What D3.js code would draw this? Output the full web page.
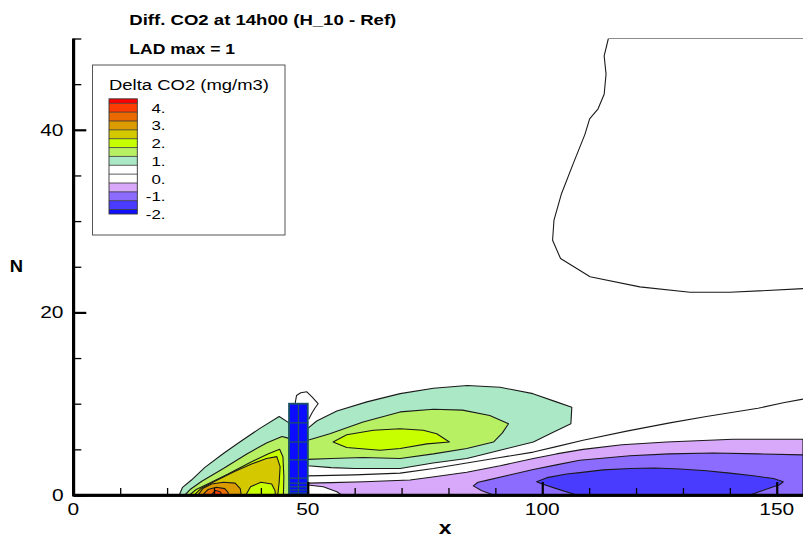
<!DOCTYPE html>
<html><head><meta charset="utf-8">
<script src="https://cdn.jsdelivr.net/npm/d3@7"></script>
<style>
body{margin:0;background:#fff}
svg{display:block}
text{font-family:"Liberation Sans",Arial,Helvetica,sans-serif;fill:#000}
</style>
</head><body>
<svg id="chart" width="803" height="538"></svg>
<script>
// ---------------- DATA ----------------
const titleText = "Diff. CO2 at 14h00 (H_10 - Ref)";
const subTitleText = "LAD max = 1";
const legendTitle = "Delta CO2 (mg/m3)";
const xLabel = "x", yLabel = "N";

const xMajorTicks = [0, 50, 100, 150];
const xMinorTicks = [10, 20, 30, 40, 60, 70, 80, 90, 110, 120, 130, 140];
const yMajorTicks = [0, 20, 40];
const yMinorTicks = [5, 10, 15, 25, 30, 35, 45, 50];

// legend: band edges (mg/m3) and colours
const legendBreaks = [4.5, 4.25, 3.75, 3.25, 2.75, 2.25, 1.75, 1.25, 0.75, 0.25, -0.25, -0.75, -1.25, -1.75, -2];
const legendColors = ["#ff0000", "#ff3c00", "#ea6a00", "#dc9c00", "#d4c800", "#c8ff00", "#b8f064", "#aae8c6",
                      "#ffffff", "#ffffff", "#d8a8fa", "#8c6cff", "#4a3cff", "#1010ff"];
const legendLabels = [4, 3, 2, 1, 0, -1, -2];

// contour regions, points in (x, N)
const leftMint = [[22.6,0],[23.3,0.84],[25.2,1.64],[28.0,3.0],[32.0,4.55],[35.5,5.8],[39.8,7.3],[43.9,8.6],[46,7.9],[46,0]];
const leftGreen = [[23.8,0],[24.9,0.6],[27.4,1.5],[32,2.9],[37,4.5],[41.2,5.7],[44.5,6.4],[46,6.2],[46,0]];
const leftYellow = [[24.8,0],[26.2,0.6],[29,1.3],[33,2.3],[37.5,3.5],[41.5,4.5],[44.0,5.0],[44.7,4.2],[44.9,2.0],[44.8,0]];
const leftOlive = [[25.8,0],[27.2,0.7],[30.5,1.6],[34.5,2.6],[38,3.4],[41.2,4.0],[43.4,4.2],[44.1,3.1],[43.9,1.4],[43.6,0]];
const leftPocket = [[36.8,0],[37.8,0.9],[40,1.4],[42.3,1.2],[43.0,0.5],[43.1,0]];
const leftAmber = [[26.6,0],[27.6,0.7],[29.5,1.2],[32,1.4],[34.5,1.3],[35.6,0.7],[35.8,0]];
const leftOrange = [[27.6,0],[28.7,0.6],[30.5,0.85],[32.3,0.7],[33,0.3],[33.1,0]];
const leftRed = [[29.4,0],[30.3,0.5],[31.3,0.35],[31.7,0]];

const rightMint = [[50,7.3],[51.9,8.1],[56.2,9.2],[62.6,10.2],[69.7,11.1],[76.8,11.7],[84,12.0],[91,11.8],[98,11.1],[103,10.2],[106.3,9.6],[106.1,7.8],
                   [102,6.8],[98.1,5.8],[91,4.9],[83.9,4.0],[76.7,3.5],[69.7,2.9],[60,2.9],[55,3.0],[50,3.2]];
const rightGreen = [[50,6.0],[54.7,6.7],[61.8,8.0],[69.7,9.1],[76.8,9.4],[83,9.3],[88.8,8.7],[92.8,7.8],[91.5,6.8],[89.6,5.8],
                    [83.9,5.1],[76.8,4.5],[69.7,4.0],[61.8,4.1],[55,4.0],[50,3.9]];
const rightYellow = [[55.4,5.8],[58.3,6.6],[64,7.1],[69.7,7.25],[74.6,7.1],[77.5,6.7],[80.2,5.8],[75.4,5.6],[69.7,5.1],[65.4,4.9],[58.3,5.2]];

const purpleLight = [[50,1.3],[55,1.35],[62,1.45],[71.8,1.64],[77,2.0],[83.9,2.5],[91,3.2],[98.1,4.0],[103,4.5],[108.7,5.0],[117,5.5],
                     [126.5,5.8],[140.7,6.1],[155.6,6.1],[155.6,0],[57.2,0],[56.2,0.36],[53.3,0.9],[50,1.1]];
const purpleMid = [[85.3,1.0],[86.3,1.4],[88.1,1.6],[93,2.2],[98.1,2.8],[103,3.3],[108,3.8],[118.7,4.3],[127,4.5],[136.5,4.6],[146,4.5],
                   [155.6,4.4],[155.6,0],[89.6,0],[87,0.5]];
const purpleDeep = [[98.8,1.45],[101,1.9],[105.2,2.3],[108,2.45],[113,2.75],[118.7,2.9],[124,2.95],[129.4,2.85],[135,2.65],[140,2.4],
                    [145,2.1],[149.3,1.8],[151.4,1.45],[150.5,1.1],[149.3,0.9],[147,0.5],[144.3,0],[107.3,0],[103,0.7],[100,1.2]];

// zero-band contour lines (white on both sides)
const lineLow = [[50,2.1],[60,2.2],[69.7,2.4],[76.8,2.9],[83.9,3.5],[91,4.1],[98.1,4.7],[103,5.3],[108.7,6.0],[118,7.0],[127.2,7.9],
                 [135,8.6],[140,9.0],[146,9.5],[151.4,10.1],[155.6,10.5]];
const lineTopLoop = [[114.1,50],[113.2,48.1],[113.6,46.1],[113.2,43.9],[111.9,42.3],[110.1,41.2],[109.1,39.5],[106.6,36.3],[104.1,33.0],
                     [102.5,30.1],[102.2,27.9],[103.9,25.9],[110.2,23.9],[120.8,22.8],[131.5,22.2],[140,22.2],[155.6,22.6]];
const lineTopEdge = [[114.1,50],[155.6,50]];
const lineBuildingLoop = [[47.3,10],[47.6,10.9],[48.5,11.2],[49.8,11.3],[51,10.7],[52.2,10.0],[51.5,9.5],[50.8,8.9],[50.2,8.3]];

// building (tree block) and its mesh
const building = {x0: 46, x1: 50, y0: 0, y1: 10};
const buildingMeshX = [48];
const buildingMeshY = [7.9, 5.8, 3.85, 1.85, 1.3, 0.9, 0.55, 0.22];

// ---------------- DRAW ----------------
const svg = d3.select("#chart");
const x = d3.scaleLinear().domain([0, 155.6]).range([73.3, 803]);
const y = d3.scaleLinear().domain([0, 50]).range([495, 38.5]);

svg.append("defs").append("clipPath").attr("id", "plotclip")
  .append("rect").attr("x", x(0)).attr("y", y(50)).attr("width", x(155.6) - x(0)).attr("height", y(0) - y(50));

const plot = svg.append("g").attr("clip-path", "url(#plotclip)");
const line = d3.line().x(d => x(d[0])).y(d => y(d[1]));

const fills = [
  [leftMint, "#aae8c6"], [leftGreen, "#b8f064"], [leftYellow, "#c8ff00"], [leftOlive, "#d4c800"],
  [leftPocket, "#c8ff00"], [leftAmber, "#dc9c00"], [leftOrange, "#ea6a00"], [leftRed, "#ff3c00"],
  [rightMint, "#aae8c6"], [rightGreen, "#b8f064"], [rightYellow, "#c8ff00"],
  [purpleLight, "#d8a8fa"], [purpleMid, "#8c6cff"], [purpleDeep, "#4a3cff"]
];
fills.forEach(([pts, col]) => {
  plot.append("path").attr("d", line(pts) + "Z").attr("fill", col)
    .attr("stroke", "#1a1a1a").attr("stroke-width", 1.1).attr("stroke-linejoin", "round");
});
[lineLow, lineTopLoop, lineTopEdge, lineBuildingLoop].forEach(pts => {
  plot.append("path").attr("d", line(pts)).attr("fill", "none")
    .attr("stroke", "#1a1a1a").attr("stroke-width", 1.1).attr("stroke-linejoin", "round");
});

// building
const bg = plot.append("g");
bg.append("rect").attr("x", x(building.x0)).attr("y", y(building.y1))
  .attr("width", x(building.x1) - x(building.x0)).attr("height", y(building.y0) - y(building.y1))
  .attr("fill", "#0c0cff");
buildingMeshX.forEach(v => bg.append("line").attr("x1", x(v)).attr("x2", x(v)).attr("y1", y(building.y0)).attr("y2", y(building.y1))
  .attr("stroke", "#1b5564").attr("stroke-width", 1.2));
buildingMeshY.forEach(v => bg.append("line").attr("x1", x(building.x0)).attr("x2", x(building.x1)).attr("y1", y(v)).attr("y2", y(v))
  .attr("stroke", "#1b5564").attr("stroke-width", 1.2));
bg.append("rect").attr("x", x(building.x0)).attr("y", y(building.y1))
  .attr("width", x(building.x1) - x(building.x0)).attr("height", y(building.y0) - y(building.y1))
  .attr("fill", "none").attr("stroke", "#1b5564").attr("stroke-width", 1.8);

// axes (ticks inward)
const ax = svg.append("g");
const xMajor = ax.append("g").attr("transform", `translate(0,${y(0)})`)
  .call(d3.axisBottom(x).tickValues(xMajorTicks).tickSize(-13).tickSizeOuter(0).tickFormat(""));
const xMinor = ax.append("g").attr("transform", `translate(0,${y(0)})`)
  .call(d3.axisBottom(x).tickValues(xMinorTicks).tickSize(-7).tickSizeOuter(0).tickFormat(""));
const yMajor = ax.append("g").attr("transform", `translate(${x(0)},0)`)
  .call(d3.axisLeft(y).tickValues(yMajorTicks).tickSize(-13).tickSizeOuter(0).tickFormat(""));
const yMinor = ax.append("g").attr("transform", `translate(${x(0)},0)`)
  .call(d3.axisLeft(y).tickValues(yMinorTicks).tickSize(-8).tickSizeOuter(0).tickFormat(""));
[xMajor, yMajor].forEach(g => { g.selectAll(".tick line").attr("stroke", "#000").attr("stroke-width", 2.2); });
[xMinor, yMinor].forEach(g => { g.selectAll(".tick line").attr("stroke", "#000").attr("stroke-width", 1.3); });
[xMajor, xMinor, yMajor, yMinor].forEach(g => g.select(".domain").attr("stroke", "#000").attr("stroke-width", 2.6));
ax.append("line").attr("x1", x(0) - 1.3).attr("x2", 803).attr("y1", y(0)).attr("y2", y(0)).attr("stroke", "#000").attr("stroke-width", 2.6);
ax.append("line").attr("x1", x(0)).attr("x2", x(0)).attr("y1", y(0) + 1.3).attr("y2", y(50)).attr("stroke", "#000").attr("stroke-width", 2.6);

function stext(str, px, py, size, weight, sx, anchor) {
  return svg.append("text").attr("transform", `translate(${px},${py}) scale(${sx},1)`)
    .attr("text-anchor", anchor).style("font-size", size + "px").style("font-weight", weight).text(str);
}
xMajorTicks.forEach(v => stext(String(v), x(v), 515, 17, "normal", 1.23, "middle"));
yMajorTicks.forEach(v => stext(String(v), 63.5, y(v) + 6, 17, "normal", 1.23, "end"));
stext(xLabel, 445, 534, 19, "bold", 1.2, "middle");
stext(yLabel, 16.5, 272, 16, "bold", 1.15, "middle");

// titles
svg.append("text").attr("x", 129.3).attr("y", 25).attr("textLength", 267).attr("lengthAdjust", "spacingAndGlyphs")
  .style("font-size", "15px").style("font-weight", "bold").text(titleText);
svg.append("text").attr("x", 129.3).attr("y", 54).attr("textLength", 105.7).attr("lengthAdjust", "spacingAndGlyphs")
  .style("font-size", "15px").style("font-weight", "bold").text(subTitleText);

// legend
const lg = svg.append("g");
lg.append("rect").attr("x", 92.5).attr("y", 65).attr("width", 192.5).attr("height", 170)
  .attr("fill", "#fff").attr("stroke", "#555").attr("stroke-width", 1);
lg.append("text").attr("x", 109).attr("y", 89.5).attr("textLength", 160).attr("lengthAdjust", "spacingAndGlyphs")
  .style("font-size", "14px").text(legendTitle);
const ly = d3.scaleLinear().domain([4, -2]).range([107.7, 214]);
legendColors.forEach((c, i) => {
  lg.append("rect").attr("x", 109).attr("y", ly(legendBreaks[i])).attr("width", 28.3)
    .attr("height", ly(legendBreaks[i + 1]) - ly(legendBreaks[i])).attr("fill", c);
});
legendBreaks.slice(1, -1).forEach(v => {
  lg.append("line").attr("x1", 109).attr("x2", 137.3).attr("y1", ly(v)).attr("y2", ly(v))
    .attr("stroke", "#333").attr("stroke-width", 0.8);
});
lg.append("rect").attr("x", 109).attr("y", ly(4.5)).attr("width", 28.3).attr("height", ly(-2) - ly(4.5))
  .attr("fill", "none").attr("stroke", "#333").attr("stroke-width", 0.9);
legendLabels.forEach(v => {
  lg.append("text").attr("transform", `translate(165.5,${ly(v) + 5}) scale(1.25,1)`)
    .attr("text-anchor", "end").style("font-size", "13.5px").text(v + ".");
});
</script>
</body></html>
